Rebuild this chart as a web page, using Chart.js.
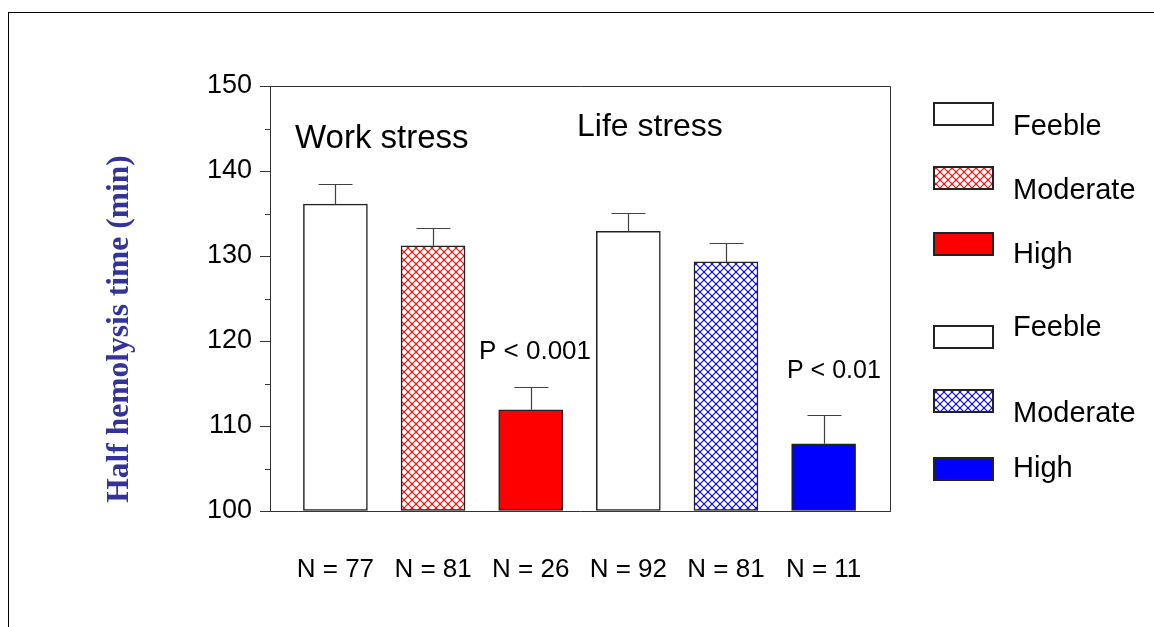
<!DOCTYPE html>
<html>
<head>
<meta charset="utf-8">
<script src="https://cdn.jsdelivr.net/npm/chart.js@4.4.1/dist/chart.umd.min.js"></script>
<style>
  html, body { margin:0; padding:0; background:#fff; }
  #wrap { position:relative; width:1154px; height:627px; overflow:hidden; }
  #frame { position:absolute; left:8px; top:12px; width:1200px; height:700px; border-left:1px solid #000; border-top:1px solid #000; pointer-events:none; }
  canvas { position:absolute; left:0; top:0; }
</style>
</head>
<body>
<div id="wrap">
  <canvas id="c" width="1154" height="627"></canvas>
  <div id="frame"></div>
</div>
<script>
// ---- data ----
const categories = ['Feeble', 'Moderate', 'High', 'Feeble', 'Moderate', 'High'];
const nLabels = ['N = 77', 'N = 81', 'N = 26', 'N = 92', 'N = 81', 'N = 11'];
const meanValues = [136.1, 131.2, 111.9, 132.9, 129.3, 107.9];
const errorTops = [138.5, 133.3, 114.6, 135.1, 131.5, 111.3];
const yTickValues = [100, 110, 120, 130, 140, 150];
const yMinorTicks = [105, 115, 125, 135, 145];
const groupTitles = ['Work stress', 'Life stress'];
const pLabels = ['P < 0.001', 'P < 0.01'];

const FONT = '"Liberation Sans", Arial, sans-serif';

function hatch(color) {
  const p = document.createElement('canvas');
  p.width = 8; p.height = 8;
  const g = p.getContext('2d');
  g.fillStyle = '#fff';
  g.fillRect(0, 0, 8, 8);
  g.strokeStyle = color;
  g.lineWidth = 1.1;
  g.beginPath();
  g.moveTo(-1, -1); g.lineTo(9, 9);
  g.moveTo(9, -1); g.lineTo(-1, 9);
  g.stroke();
  return document.getElementById('c').getContext('2d').createPattern(p, 'repeat');
}
const redHatch = hatch('#ff0000');
const blueHatch = hatch('#0000ff');
const fills = ['#ffffff', redHatch, '#ff0000', '#ffffff', blueHatch, '#0000ff'];

const extras = {
  id: 'extras',
  afterDatasetsDraw(chart) {
    const ctx = chart.ctx;
    const ys = chart.scales.y;
    const meta = chart.getDatasetMeta(0);
    ctx.save();
    ctx.strokeStyle = '#404040';
    ctx.lineWidth = 1.2;
    meta.data.forEach((bar, i) => {
      const yT = Math.round(ys.getPixelForValue(errorTops[i])) + 0.5;
      const x = Math.round(bar.x) + 0.5;
      ctx.beginPath();
      ctx.moveTo(x, bar.y);
      ctx.lineTo(x, yT);
      ctx.moveTo(x - 17, yT);
      ctx.lineTo(x + 17, yT);
      ctx.stroke();
    });
    ctx.restore();
  },
  afterDraw(chart) {
    const ctx = chart.ctx;
    const ys = chart.scales.y;
    const a = chart.chartArea;
    ctx.save();
    ctx.strokeStyle = '#333';
    ctx.lineWidth = 1;
    ctx.beginPath();
    ctx.moveTo(Math.round(a.left), Math.round(a.top) + 0.5);
    ctx.lineTo(Math.round(a.right) + 0.5, Math.round(a.top) + 0.5);
    ctx.lineTo(Math.round(a.right) + 0.5, Math.round(a.bottom));
    ctx.stroke();
    ctx.beginPath();
    yMinorTicks.forEach(v => {
      const y = Math.round(ys.getPixelForValue(v)) + 0.5;
      ctx.moveTo(a.left - 5, y);
      ctx.lineTo(a.left, y);
    });
    ctx.stroke();

    ctx.fillStyle = '#000';
    ctx.textBaseline = 'alphabetic';
    ctx.textAlign = 'left';
    ctx.font = '33px ' + FONT;
    ctx.fillText(groupTitles[0], 295, 148);
    ctx.font = '32px ' + FONT;
    ctx.fillText(groupTitles[1], 577, 136);
    ctx.font = '26px ' + FONT;
    ctx.fillText(pLabels[0], 479, 359);
    ctx.font = '25px ' + FONT;
    ctx.fillText(pLabels[1], 787, 378);

    ctx.save();
    ctx.translate(128, 329);
    ctx.rotate(-Math.PI / 2);
    ctx.textAlign = 'center';
    ctx.fillStyle = '#333399';
    ctx.font = 'bold 31.5px "Liberation Serif", "Times New Roman", serif';
    ctx.fillText('Half hemolysis time (min)', 0, 0);
    ctx.restore();

    const legendRows = [
      { box: 103, text: 135, fill: fills[0], label: categories[0] },
      { box: 167, text: 199, fill: fills[1], label: categories[1] },
      { box: 233, text: 263, fill: fills[2], label: categories[2] },
      { box: 326, text: 336, fill: fills[3], label: categories[3] },
      { box: 390, text: 422, fill: fills[4], label: categories[4] },
      { box: 458, text: 477, fill: fills[5], label: categories[5] }
    ];
    ctx.font = '29px ' + FONT;
    legendRows.forEach(r => {
      ctx.fillStyle = r.fill;
      ctx.fillRect(934, r.box, 59, 22);
      ctx.strokeStyle = '#222';
      ctx.lineWidth = 2;
      ctx.strokeRect(934, r.box, 59, 22);
      ctx.fillStyle = '#000';
      ctx.fillText(r.label, 1013, r.text);
    });
    ctx.restore();
  }
};

new Chart(document.getElementById('c'), {
  type: 'bar',
  data: {
    datasets: [{
      data: meanValues.map((v, i) => ({ x: i, y: v })),
      backgroundColor: fills,
      borderColor: '#222',
      borderWidth: 1.5,
      borderSkipped: false,
      barThickness: 64,
      base: 100
    }]
  },
  options: {
    responsive: false,
    animation: false,
    devicePixelRatio: 1,
    layout: { padding: { left: 0, right: 264, top: 86, bottom: 0 } },
    plugins: { legend: { display: false }, tooltip: { enabled: false } },
    scales: {
      x: {
        type: 'linear',
        offset: false,
        min: -0.67,
        max: 5.68,
        afterBuildTicks: s => { s.ticks = nLabels.map((_, i) => ({ value: i })); },
        afterFit: s => { s.height = 116; },
        ticks: {
          autoSkip: false,
          maxRotation: 0,
          padding: 43,
          color: '#000',
          font: { family: FONT, size: 26 },
          callback: v => nLabels[v]
        },
        grid: { display: false, drawTicks: false, offset: false },
        border: { display: true, color: '#333', width: 1 }
      },
      y: {
        min: 100,
        max: 150,
        afterBuildTicks: s => { s.ticks = yTickValues.map(v => ({ value: v })); },
        afterFit: s => { s.width = 270; },
        ticks: {
          padding: 8,
          color: '#000',
          font: { family: FONT, size: 27 }
        },
        grid: { drawOnChartArea: false, tickLength: 10, tickColor: '#333', tickWidth: 1 },
        border: { display: true, color: '#333', width: 1 }
      }
    }
  },
  plugins: [extras]
});
</script>
</body>
</html>
